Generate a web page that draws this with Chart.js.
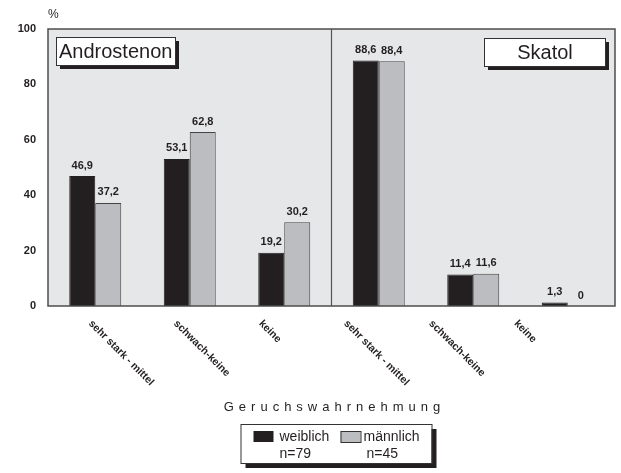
<!DOCTYPE html>
<html>
<head>
<meta charset="utf-8">
<script src="https://cdn.jsdelivr.net/npm/chart.js@4.4.0/dist/chart.umd.min.js"></script>
<style>
html, body { margin: 0; padding: 0; background: #fff; }
#wrap { width: 621px; height: 473px; }
</style>
</head>
<body>
<div id="wrap"><canvas id="geruchChart"></canvas></div>
<script>
var categories = ["sehr stark - mittel", "schwach-keine", "keine", "sehr stark - mittel", "schwach-keine", "keine"];
var weiblich = [46.9, 53.1, 19.2, 88.6, 11.4, 1.3];
var maennlich = [37.2, 62.8, 30.2, 88.4, 11.6, 0];
var yTicks = [0, 20, 40, 60, 80, 100];
var groupTitles = ["Androstenon", "Skatol"];
var seriesNames = ["weiblich", "männlich"];
var sampleSizes = ["n=79", "n=45"];
var axisTitle = "Geruchswahrnehmung";

var ink = "#231f20";
var fontName = "'Liberation Sans', Arial, sans-serif";

function fmt(v) {
    if (v === 0) return "0";
    return v.toFixed(1).replace(".", ",");
}

function shadowBox(ctx, x, y, w, h, off) {
    ctx.fillStyle = ink;
    ctx.fillRect(x + off, y + off, w, h);
    ctx.fillStyle = "#fff";
    ctx.fillRect(x, y, w, h);
    ctx.strokeStyle = "#333";
    ctx.lineWidth = 1;
    ctx.strokeRect(x + 0.5, y + 0.5, w, h);
}

var panelPlugin = {
    id: "panel",
    beforeDatasetsDraw: function (chart) {
        var ctx = chart.ctx, a = chart.chartArea, xs = chart.scales.x;
        ctx.save();
        ctx.fillStyle = "#e6e7e8";
        ctx.fillRect(a.left, a.top, a.right - a.left, a.bottom - a.top);
        // divider between the two substances
        var mid = (xs.getPixelForValue(2) + xs.getPixelForValue(3)) / 2;
        ctx.strokeStyle = "#555";
        ctx.lineWidth = 1.2;
        ctx.beginPath();
        ctx.moveTo(mid, a.top);
        ctx.lineTo(mid, a.bottom);
        ctx.stroke();
        ctx.restore();
    },
    afterDatasetsDraw: function (chart) {
        var ctx = chart.ctx, a = chart.chartArea, xs = chart.scales.x;
        ctx.save();
        ctx.strokeStyle = "#4d4d4d";
        ctx.lineWidth = 1.5;
        ctx.strokeRect(a.left, a.top, a.right - a.left, a.bottom - a.top);

        // value labels
        ctx.fillStyle = ink;
        ctx.font = "bold 11px " + fontName;
        ctx.textAlign = "center";
        ctx.textBaseline = "bottom";
        chart.data.datasets.forEach(function (ds, di) {
            chart.getDatasetMeta(di).data.forEach(function (bar, i) {
                ctx.fillText(fmt(ds.data[i]), bar.x, bar.y - 5);
            });
        });

        // group title boxes
        ctx.font = "20px " + fontName;
        ctx.textBaseline = "middle";
        ctx.textAlign = "left";
        shadowBox(ctx, a.left + 8, a.top + 8, 119, 28, 4);
        ctx.fillStyle = ink;
        ctx.fillText(groupTitles[0], a.left + 11, a.top + 23);
        shadowBox(ctx, a.right - 131, a.top + 9, 121, 28, 4);
        ctx.fillStyle = ink;
        ctx.textAlign = "center";
        ctx.fillText(groupTitles[1], a.right - 70, a.top + 24);

        // "%" unit
        ctx.font = "12px " + fontName;
        ctx.textAlign = "left";
        ctx.fillText("%", a.left, a.top - 14);

        // rotated category labels
        ctx.font = "bold 10.5px " + fontName;
        ctx.textBaseline = "middle";
        categories.forEach(function (c, i) {
            var cx = xs.getPixelForValue(i);
            ctx.save();
            ctx.translate(cx - 5 - 9.4 * i, a.bottom + 16);
            ctx.rotate(Math.PI / 4);
            ctx.fillText(c, 0, 0);
            ctx.restore();
        });
        ctx.restore();
    },
    afterDraw: function (chart) {
        var ctx = chart.ctx, a = chart.chartArea;
        var cx = (a.left + a.right) / 2;
        ctx.save();
        ctx.fillStyle = ink;
        ctx.font = "13px " + fontName;
        ctx.textAlign = "center";
        ctx.textBaseline = "middle";
        ctx.letterSpacing = "5px";
        ctx.fillText(axisTitle, cx + 3, a.bottom + 101);
        ctx.letterSpacing = "0px";

        // legend
        var lx = cx - 91, ly = a.bottom + 118;
        shadowBox(ctx, lx, ly, 191, 39, 5);
        ctx.font = "14px " + fontName;
        ctx.textAlign = "left";
        ctx.fillStyle = ink;
        ctx.fillRect(lx + 13, ly + 7, 20, 11);
        ctx.fillText(seriesNames[0], lx + 39, ly + 13);
        ctx.fillText(sampleSizes[0], lx + 39, ly + 30);
        ctx.fillStyle = "#bcbdc0";
        ctx.fillRect(lx + 100, ly + 7, 20, 11);
        ctx.strokeStyle = "#333";
        ctx.strokeRect(lx + 100.5, ly + 7.5, 20, 11);
        ctx.fillStyle = ink;
        ctx.fillText(seriesNames[1], lx + 123, ly + 13);
        ctx.fillText(sampleSizes[1], lx + 126, ly + 30);
        ctx.restore();
    }
};

var chart = new Chart(document.getElementById("geruchChart"), {
    type: "bar",
    data: {
        labels: categories,
        datasets: [
            {
                label: seriesNames[0],
                data: weiblich,
                backgroundColor: ink,
                borderColor: ink,
                borderWidth: 1,
                categoryPercentage: 0.55,
                barPercentage: 1
            },
            {
                label: seriesNames[1],
                data: maennlich,
                backgroundColor: "#bcbdc0",
                borderColor: "#444",
                borderWidth: 1,
                categoryPercentage: 0.55,
                barPercentage: 1
            }
        ]
    },
    options: {
        responsive: true,
        maintainAspectRatio: false,
        animation: false,
        layout: { padding: { top: 29, right: 6, bottom: 167, left: 0 } },
        plugins: {
            legend: { display: false },
            tooltip: { enabled: false }
        },
        scales: {
            x: {
                grid: { display: false },
                border: { display: false },
                ticks: { display: false },
                afterFit: function (scale) { scale.height = 0; }
            },
            y: {
                min: 0,
                max: 100,
                afterBuildTicks: function (scale) {
                    scale.ticks = yTicks.map(function (v) { return { value: v }; });
                },
                grid: { display: false },
                border: { display: false },
                ticks: {
                    color: ink,
                    font: { family: fontName, size: 11, weight: "bold" },
                    padding: 4
                },
                afterFit: function (scale) { scale.width = 48; }
            }
        }
    },
    plugins: [panelPlugin]
});
</script>
</body>
</html>
